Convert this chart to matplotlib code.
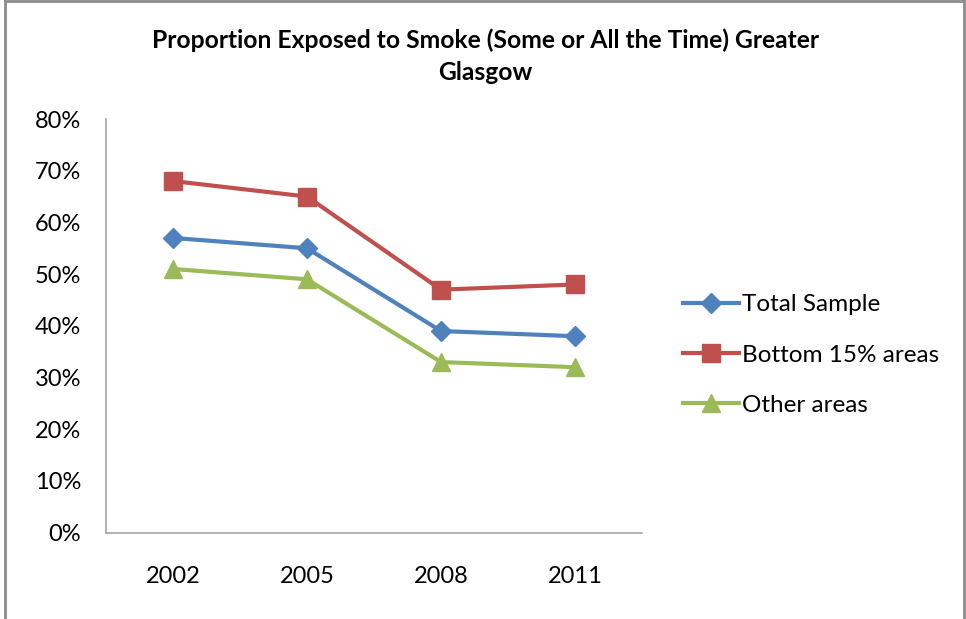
import matplotlib.pyplot as plt
from matplotlib.lines import Line2D
from matplotlib.ticker import PercentFormatter

plt.rcParams["font.family"] = ["Lato", "DejaVu Sans"]

years = ["2002", "2005", "2008", "2011"]
total_sample = [57, 55, 39, 38]
bottom_15 = [68, 65, 47, 48]
other_areas = [51, 49, 33, 32]

W, H = 966, 619
fig = plt.figure(figsize=(W / 100, H / 100), dpi=100)
ax = fig.add_axes([106 / W, 1 - 532.7 / H, (642 - 106) / W, (532.7 - 119) / H])

x = range(len(years))
ax.plot(x, total_sample, color="#4F81BD", lw=3, marker="D", ms=10, label="Total Sample")
ax.plot(x, bottom_15, color="#C0504D", lw=3, marker="s", ms=13, label="Bottom 15% areas")
ax.plot(x, other_areas, color="#9BBB59", lw=3, marker="^", ms=13, label="Other areas")

ax.set_xlim(-0.5, len(years) - 0.5)
ax.set_ylim(0, 80)
ax.set_yticks(range(0, 81, 10))
ax.yaxis.set_major_formatter(PercentFormatter(decimals=0))
ax.set_xticks(list(x))
ax.set_xticklabels(years)
ax.tick_params(length=0, labelsize=17, colors="#000000")
ax.tick_params(axis="y", pad=18)
ax.tick_params(axis="x", pad=24)
for s in ["top", "right"]:
    ax.spines[s].set_visible(False)
for s in ["left", "bottom"]:
    ax.spines[s].set_color("#A6A6A6")
    ax.spines[s].set_linewidth(1.2)

title_kw = dict(ha="center", va="center", fontsize=17.7, fontweight="bold")
fig.text(485 / W, 1 - 40 / H, "Proportion Exposed to Smoke (Some or All the Time) Greater", **title_kw)
fig.text(485 / W, 1 - 72 / H, "Glasgow", **title_kw)

fig.legend(loc="center left", bbox_to_anchor=(661 / W, 1 - 355 / H), frameon=False,
           fontsize=17.5, handlelength=2.3, handletextpad=0.15, labelspacing=1.2)

# outer chart frame
frame_kw = dict(color="#8C8C8C", lw=2, transform=fig.transFigure)
fig.add_artist(Line2D([5 / W, 5 / W], [0, 1 - 1 / H], **frame_kw))
fig.add_artist(Line2D([964 / W, 964 / W], [0, 1 - 1 / H], **frame_kw))
fig.add_artist(Line2D([5 / W, 964 / W], [1 - 1 / H, 1 - 1 / H], **frame_kw))

fig.savefig("out.png", dpi=100)
